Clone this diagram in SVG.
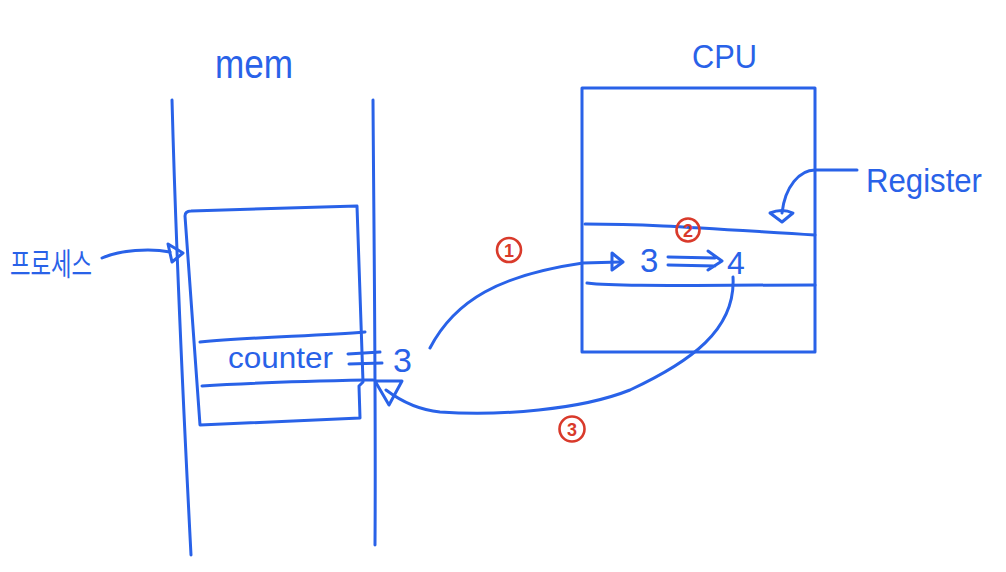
<svg xmlns="http://www.w3.org/2000/svg" width="1006" height="572" viewBox="0 0 1006 572">
<style>
.b{fill:none;stroke:#2962e8;stroke-width:3;stroke-linecap:round;stroke-linejoin:round}
.r{fill:none;stroke:#d93a2b;stroke-width:2.6}
.t{fill:#2962e8;font-family:"Liberation Sans","Noto Sans CJK KR",sans-serif}
.rt{fill:#d93a2b;font-family:"Liberation Sans",sans-serif;font-size:18px;font-weight:bold;text-anchor:middle}
</style>
<rect width="1006" height="572" fill="#ffffff"/>
<g id="mem">
<text class="t" x="215" y="78" font-size="40" textLength="78" lengthAdjust="spacingAndGlyphs">mem</text>
<path class="b" d="M172,100 C176,250 184,420 191,555"/>
<path class="b" d="M373,100 C374,250 376,400 375,545"/>
</g>
<g id="process">
<path class="b" d="M185,216 Q185,211 191,211 L357,206 L363,382 L359,386 L360,418 L200,425 L185,216"/>
<path class="b" d="M200,342 C250,337 320,336 365,332"/>
<path class="b" d="M202,386 C260,382 320,381 373,380"/>
<text class="t" x="228" y="368" font-size="30" textLength="105" lengthAdjust="spacingAndGlyphs">counter</text>
<path class="b" d="M348,354 L380,352 M349,364 L382,363"/>
<text class="t" x="393" y="372" font-size="34">3</text>
</g>
<g id="process-label">
<text class="t" x="10" y="275" font-size="31" textLength="82" lengthAdjust="spacingAndGlyphs">프로세스</text>
</g>
<g id="cpu">
<text class="t" x="692" y="68" font-size="34" textLength="65" lengthAdjust="spacingAndGlyphs">CPU</text>
<rect class="b" x="582" y="88" width="233" height="264" stroke-linecap="square"/>
</g>
<g id="register">
<path class="b" d="M585,224 C650,224 700,228 815,235"/>
<path class="b" d="M587,283 C620,287 700,285 815,285"/>
<text class="t" x="640" y="272" font-size="33">3</text>
<path class="b" d="M668,257 L715,258 M668,265 L715,266 M708,251 L722,261 L708,270"/>
<text class="t" x="727" y="274" font-size="32">4</text>
</g>
<g id="register-label">
<text class="t" x="866" y="192" font-size="34" textLength="116" lengthAdjust="spacingAndGlyphs">Register</text>
</g>
<g id="steps">
<circle class="r" cx="509" cy="250" r="12"/>
<text class="rt" x="509" y="256.5">1</text>
<circle class="r" cx="688" cy="230" r="11.5"/>
<text class="rt" x="688" y="236.5">2</text>
<circle class="r" cx="572" cy="429" r="12.5"/>
<text class="rt" x="572" y="435.5">3</text>
</g>
<g id="connectors">
<path class="b" d="M430,348 C455,300 500,275 583,263 L620,262"/>
<path class="b" d="M612,253 L623,262 L612,270 Z"/>
<path class="b" d="M733,277 C736,330 690,362 630,390 C580,410 500,416 440,412 C420,410 402,402 386,390"/>
<path class="b" d="M375,381 L402,381 L389,405 Z"/>
<path class="b" d="M857,170 L815,170 C800,170 785,186 782,213"/>
<path class="b" d="M770,213 Q782,208 793,213 L782,222 Z"/>
<path class="b" d="M102,258 C120,250 150,248 170,252"/>
<path class="b" d="M168,244 L183,253 L172,262 Z"/>
</g>
</svg>
